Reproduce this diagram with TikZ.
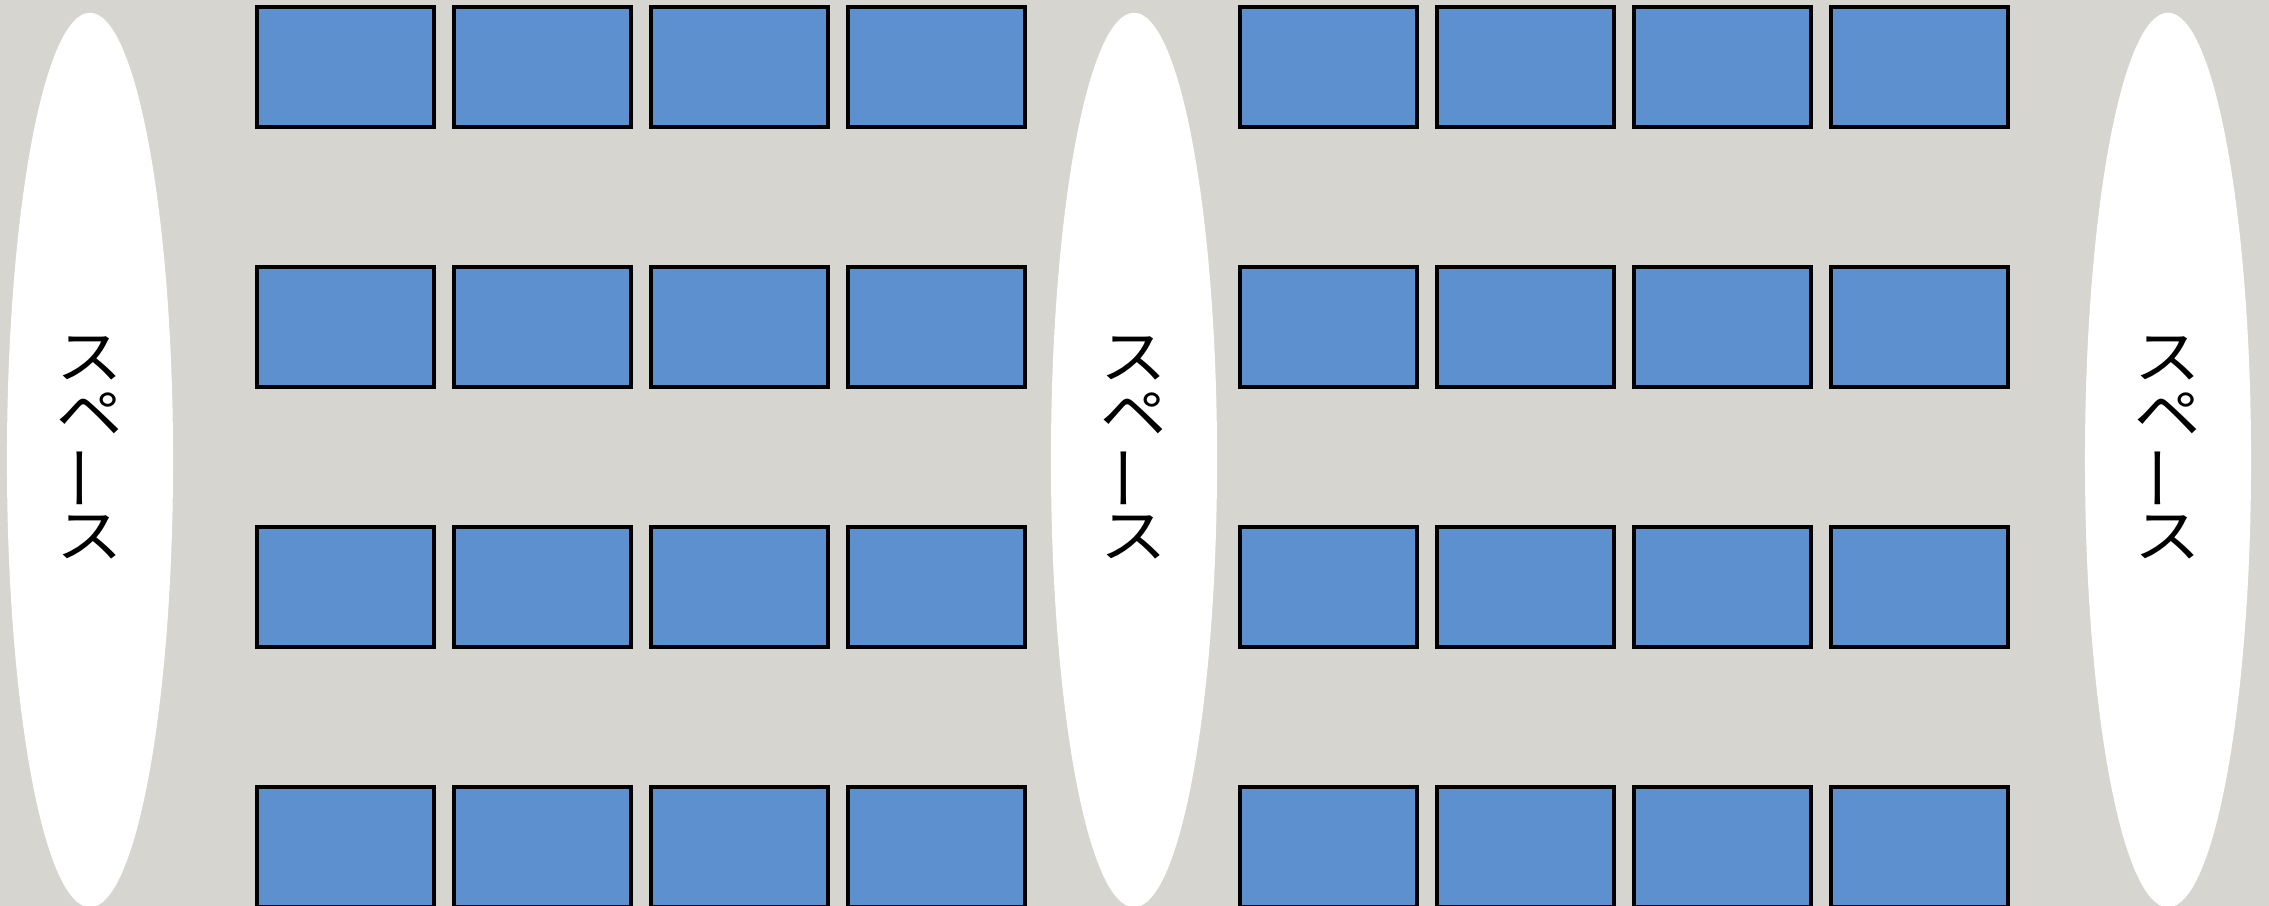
\documentclass[tikz,border=0pt]{standalone}
\usepackage{fontspec}
\usepackage{graphicx}
\newfontfamily\jpfont{Noto Sans CJK JP}
\usetikzlibrary{
  shapes.geometric,
}
\definecolor{floorbg}{RGB}{214,213,208}
\definecolor{deskblue}{RGB}{93,144,206}
\tikzset{
  desk/.style={
    rectangle, draw=black, fill=deskblue, line width=0.9pt,
    minimum width=1.77cm, minimum height=1.20cm, inner sep=0pt
  },
  spacezone/.style={
    ellipse, fill=white, draw=none,
    minimum width=1.66cm, minimum height=8.94cm, inner sep=0pt
  },
  spacelabel/.style={
    font=\jpfont\fontsize{16}{16}\selectfont, align=center, inner sep=0pt
  },
}
\newcommand{\wide}[1]{\scalebox{1.18}[1.05]{#1}}
\newcommand{\spacetext}{\wide{ス}\\\wide{ペ}\\\rotatebox[origin=c]{90}{\wide{ー}}\\\wide{ス}}

\begin{document}
\begin{tikzpicture}[x=0.01cm, y=0.01cm]

  % ── Floor ──
  \fill[floorbg] (0,0) rectangle (2269,-906);
  \useasboundingbox (0,0) rectangle (2269,-906);
  \clip (0,0) rectangle (2269,-906);

  % ── Open spaces ──
  \node[spacezone] (spaceL) at (90,-460) {};
  \node[spacezone] (spaceM) at (1134,-460) {};
  \node[spacezone] (spaceR) at (2168,-460) {};

  \node[spacelabel] (labelL) at (90,-448) {\spacetext};
  \node[spacelabel] (labelM) at (1134,-448) {\spacetext};
  \node[spacelabel] (labelR) at (2168,-448) {\spacetext};

  % ── Desks ──
  \foreach \r in {0,...,3} {
    \foreach \c in {0,...,3} {
      \node[desk] (deskA-\r-\c) at ({345.5+197*\c},{-67-260*\r}) {};
      \node[desk] (deskB-\r-\c) at ({1328.5+197*\c},{-67-260*\r}) {};
    }
  }

\end{tikzpicture}
\end{document}
